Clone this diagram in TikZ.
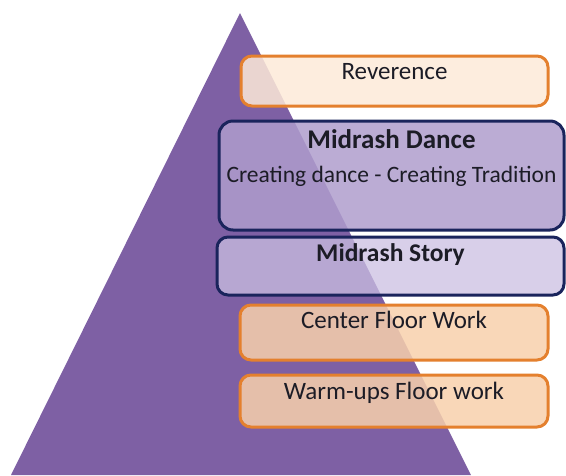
\documentclass[tikz,border=0pt]{standalone}
\usepackage{fontspec}
\setmainfont{Carlito}
\definecolor{pyramid}{RGB}{126,96,164}
\definecolor{peachline}{RGB}{228,128,46}
\definecolor{peachfill}{RGB}{248,208,172}
\definecolor{peachpale}{RGB}{253,234,216}
\definecolor{navyline}{RGB}{26,36,92}
\definecolor{lavdark}{RGB}{175,157,205}
\definecolor{lavpale}{RGB}{203,191,226}
\definecolor{txtdark}{RGB}{28,28,38}
\tikzset{
  stepbox/.style={rectangle, rounded corners=11pt, line width=3pt, inner sep=0pt},
  orangebox/.style={stepbox, draw=peachline, fill=peachfill, fill opacity=0.85},
  bluebox/.style={stepbox, draw=navyline, fill=lavdark, fill opacity=0.85},
  lbl/.style={anchor=base, inner sep=0pt, text=txtdark, font=\fontsize{25}{30}\selectfont},
}
\begin{document}
\begin{tikzpicture}[x=1pt,y=-1pt]
	\useasboundingbox (0,0) rectangle (566,475);
	% the pyramid
	\coordinate (apex) at (240,13);
	\coordinate (baseL) at (11,475);
	\coordinate (baseR) at (471,475);
	\fill[pyramid] (apex) -- (baseR) -- (baseL) -- cycle;

	% boxes, top to bottom
	\node[orangebox, fill=peachpale, minimum width=307pt, minimum height=50pt] (rev) at (394.5,81) {};
	\node[bluebox, rounded corners=14pt, minimum width=345pt, minimum height=109pt] (dance) at (391.5,175.5) {};
	\node[bluebox, fill=lavpale, fill opacity=0.75, minimum width=347pt, minimum height=58pt] (story) at (390.5,266) {};
	\node[orangebox, minimum width=308pt, minimum height=55pt] (center) at (394,332.5) {};
	\node[orangebox, minimum width=308pt, minimum height=52pt] (warm) at (394,401) {};

	% texts
	\node[lbl] (revtxt) at ([yshift=-25pt]rev.north) {Reverence};
	\node[lbl, font=\fontsize{27}{32}\selectfont\bfseries] (dancetxt) at ([yshift=-29pt]dance.north) {Midrash Dance};
	\node[lbl, font=\fontsize{23.5}{28}\selectfont] (dancesub) at ([yshift=-63pt]dance.north) {Creating dance - Creating Tradition};
	\node[lbl, font=\fontsize{25.5}{30}\selectfont\bfseries] (storytxt) at ([yshift=-26pt]story.north) {Midrash Story};
	\node[lbl] (centertxt) at ([yshift=-25pt]center.north) {Center Floor Work};
	\node[lbl] (warmtxt) at ([yshift=-26pt]warm.north) {Warm-ups Floor work};
\end{tikzpicture}
\end{document}
